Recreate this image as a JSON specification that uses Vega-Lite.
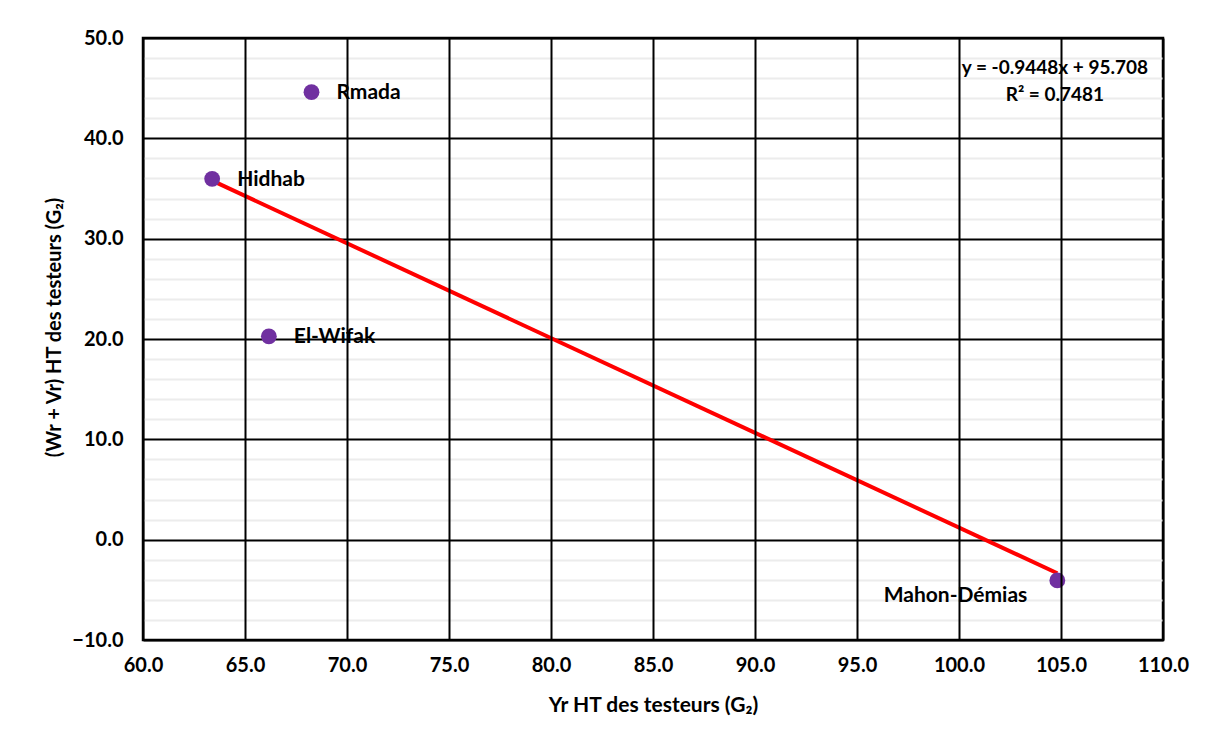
{
  "$schema": "https://vega.github.io/schema/vega-lite/v6.json",
  "autosize": {"type": "none"},
  "padding": {"left": 143, "top": 38, "right": 50, "bottom": 105},
  "width": 1020,
  "height": 602,
  "background": "white",
  "config": {
    "font": "Lato",
    "view": {"stroke": "black", "strokeWidth": 2.5},
    "axis": {"domain": false, "ticks": false, "labelOverlap": false, "labelFlush": false, "labelFont": "Lato", "labelFontWeight": "bold", "labelFontSize": 20, "labelColor": "black", "titleFont": "Lato", "titleFontWeight": "bold", "titleFontSize": 21, "titleColor": "black"}
  },
  "resolve": {"axis": {"y": "independent"}},
  "datasets": {
    "pts": [
      {"name": "Rmada", "yr": 68.26, "wrvr": 44.6},
      {"name": "Hidhab", "yr": 63.39, "wrvr": 35.96},
      {"name": "El-Wifak", "yr": 66.17, "wrvr": 20.27},
      {"name": "Mahon-Démias", "yr": 104.82, "wrvr": -4.06}
    ],
    "eq": [
      {"yr": 104.7, "wrvr": 47.0, "label": "y = -0.9448x + 95.708\nR² = 0.7481"}
    ]
  },
  "layer": [
    {
      "data": {"name": "pts"},
      "mark": {"type": "point", "opacity": 0},
      "encoding": {
        "x": {"field": "yr", "type": "quantitative", "scale": {"domain": [60, 110], "nice": false},
          "axis": {"zindex": 1, "values": [60, 65, 70, 75, 80, 85, 90, 95, 100, 105, 110], "format": ".1f", "grid": true, "gridColor": "black", "gridWidth": 2, "gridOpacity": 1, "labelPadding": 15, "title": "Yr HT des testeurs (G₂)", "titlePadding": 19}},
        "y": {"field": "wrvr", "type": "quantitative", "scale": {"domain": [-10, 50], "nice": false, "zero": false},
          "axis": {"orient": "left", "values": [-8, -6, -4, -2, 2, 4, 6, 8, 12, 14, 16, 18, 22, 24, 26, 28, 32, 34, 36, 38, 42, 44, 46, 48],
            "labels": false, "title": null, "grid": true, "gridColor": "#ececec", "gridOpacity": 1, "gridWidth": 2}}
      }
    },
    {
      "data": {"name": "pts"},
      "mark": {"type": "point", "opacity": 0},
      "encoding": {
        "x": {"field": "yr", "type": "quantitative"},
        "y": {"field": "wrvr", "type": "quantitative",
          "axis": {"orient": "left", "values": [-10, 0, 10, 20, 30, 40, 50], "format": ".1f",
            "grid": true, "gridColor": "black", "gridOpacity": 1, "gridWidth": 2, "labelPadding": 20, "title": "(Wr + Vr) HT des testeurs (G₂)", "titleFontSize": 20, "titlePadding": 7, "titleY": 289}}
      }
    },
    {
      "data": {"name": "pts"},
      "transform": [{"regression": "wrvr", "on": "yr"}],
      "mark": {"type": "line", "color": "#FF0000", "strokeWidth": 4},
      "encoding": {
        "x": {"field": "yr", "type": "quantitative"},
        "y": {"field": "wrvr", "type": "quantitative", "axis": null}
      }
    },
    {
      "data": {"name": "pts"},
      "mark": {"type": "circle", "color": "#7030A0", "opacity": 1, "size": 250},
      "encoding": {
        "x": {"field": "yr", "type": "quantitative"},
        "y": {"field": "wrvr", "type": "quantitative", "axis": null}
      }
    },
    {
      "data": {"name": "pts"},
      "transform": [{"filter": "datum.name !== 'Mahon-Démias'"}],
      "mark": {"type": "text", "align": "left", "baseline": "middle", "dx": 25, "dy": 1, "font": "Lato", "fontWeight": "bold", "fontSize": 21, "color": "black"},
      "encoding": {
        "x": {"field": "yr", "type": "quantitative"},
        "y": {"field": "wrvr", "type": "quantitative", "axis": null},
        "text": {"field": "name"}
      }
    },
    {
      "data": {"name": "pts"},
      "transform": [{"filter": "datum.name === 'Mahon-Démias'"}],
      "mark": {"type": "text", "align": "right", "baseline": "middle", "dx": -30, "dy": 16, "font": "Lato", "fontWeight": "bold", "fontSize": 21, "color": "black"},
      "encoding": {
        "x": {"field": "yr", "type": "quantitative"},
        "y": {"field": "wrvr", "type": "quantitative", "axis": null},
        "text": {"field": "name"}
      }
    },
    {
      "data": {"name": "eq"},
      "mark": {"type": "text", "align": "center", "baseline": "middle", "lineBreak": "\n", "lineHeight": 27, "font": "Lato", "fontWeight": "bold", "fontSize": 19, "color": "black"},
      "encoding": {
        "x": {"field": "yr", "type": "quantitative"},
        "y": {"field": "wrvr", "type": "quantitative", "axis": null},
        "text": {"field": "label"}
      }
    }
  ]
}
